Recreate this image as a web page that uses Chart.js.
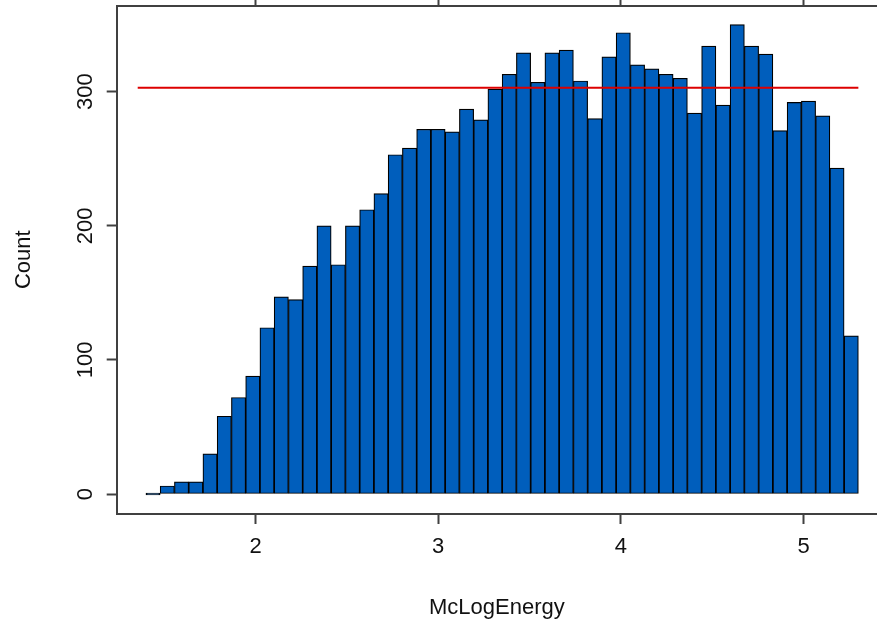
<!DOCTYPE html>
<html>
<head>
<meta charset="utf-8">
<script src="https://cdn.jsdelivr.net/npm/chart.js@4.4.0/dist/chart.umd.min.js"></script>
<style>
  html, body { margin: 0; padding: 0; background: #fff; overflow: hidden; }
  canvas { display: block; }
</style>
</head>
<body>
<canvas id="histogram" width="877" height="622"></canvas>
<script>
// histogram bins
const binStart = 1.40;
const binWidth = 0.078;
const counts = [0, 6, 9, 9, 30, 58, 72, 88, 124, 147,
  145, 170, 200, 171, 200, 212, 224, 253, 258, 272,
  272, 270, 287, 279, 302, 313, 329, 307, 329, 331,
  308, 280, 326, 344, 320, 317, 313, 310, 284, 334,
  290, 350, 334, 328, 271, 292, 293, 282, 243, 118];

// red reference line
const refLevel = 303;
const refFrom = 1.355;
const refTo = 5.30;

const xTicks = [2, 3, 4, 5];
const yTicks = [0, 100, 200, 300];
const xLabel = 'McLogEnergy';
const yLabel = 'Count';

document.addEventListener("DOMContentLoaded", function () {
  const font = { family: "'Liberation Sans', Arial, sans-serif", size: 22 };
  const axisColor = '#404040';

  const bars = counts.map(function (c, i) {
    return { x: binStart + (i + 0.5) * binWidth, y: c };
  });

  // no extra padding from the end labels, the plot box is fixed
  function noPad(scale) {
    scale.paddingTop = 0;
    scale.paddingBottom = 0;
    scale.paddingLeft = 0;
    scale.paddingRight = 0;
  }

  const canvas = document.getElementById("histogram");
  new Chart(canvas, {
    type: 'bar',
    data: {
      datasets: [{
        type: 'line',
        data: [{ x: refFrom, y: refLevel }, { x: refTo, y: refLevel }],
        borderColor: '#dd0000',
        borderWidth: 2,
        pointRadius: 0,
        fill: false,
        order: 1
      }, {
        data: bars,
        backgroundColor: '#005ebc',
        borderColor: '#000000',
        borderWidth: 1.2,
        borderSkipped: false,
        barPercentage: 1,
        categoryPercentage: 1,
        minBarLength: 2,
        order: 2
      }]
    },
    options: {
      responsive: false,
      animation: false,
      layout: { padding: 0 },
      plugins: {
        legend: { display: false },
        tooltip: { enabled: false }
      },
      scales: {
        x: {
          type: 'linear',
          position: 'bottom',
          offset: false,
          min: 1.240,
          max: 5.402,
          afterBuildTicks: function (scale) {
            scale.ticks = xTicks.map(function (v) { return { value: v }; });
          },
          afterFit: function (scale) { scale.height = 108; noPad(scale); },
          ticks: {
            color: '#111',
            font: font,
            padding: 10,
            maxRotation: 0,
            callback: function (v) { return String(v); }
          },
          grid: {
            offset: false,
            drawOnChartArea: false,
            drawTicks: true,
            tickLength: 10,
            tickWidth: 2,
            color: axisColor
          },
          border: { display: true, color: axisColor, width: 2 },
          title: {
            display: true,
            text: xLabel,
            color: '#111',
            font: font,
            padding: { top: 0, bottom: 1 }
          }
        },
        xTop: {
          type: 'linear',
          position: 'top',
          offset: false,
          min: 1.240,
          max: 5.402,
          afterBuildTicks: function (scale) {
            scale.ticks = xTicks.map(function (v) { return { value: v }; });
          },
          afterFit: function (scale) { scale.height = 5.5; noPad(scale); },
          ticks: { display: false },
          grid: {
            offset: false,
            drawOnChartArea: false,
            drawTicks: true,
            tickLength: 10,
            tickWidth: 2,
            color: axisColor
          },
          border: { display: true, color: axisColor, width: 2 }
        },
        y: {
          type: 'linear',
          position: 'left',
          min: -14.9,
          max: 364.3,
          afterBuildTicks: function (scale) {
            scale.ticks = yTicks.map(function (v) { return { value: v }; });
          },
          afterFit: function (scale) { scale.width = 116.7; noPad(scale); },
          ticks: {
            color: '#111',
            font: font,
            padding: 2,
            minRotation: 90,
            maxRotation: 90,
            crossAlign: 'center',
            callback: function (v) { return String(v); }
          },
          grid: {
            drawOnChartArea: false,
            drawTicks: true,
            tickLength: 10,
            tickWidth: 2,
            color: axisColor
          },
          border: { display: true, color: axisColor, width: 2 },
          title: {
            display: true,
            text: yLabel,
            color: '#111',
            font: font,
            padding: { top: 11, bottom: 0 }
          }
        }
      }
    }
  });
});
</script>
</body>
</html>
